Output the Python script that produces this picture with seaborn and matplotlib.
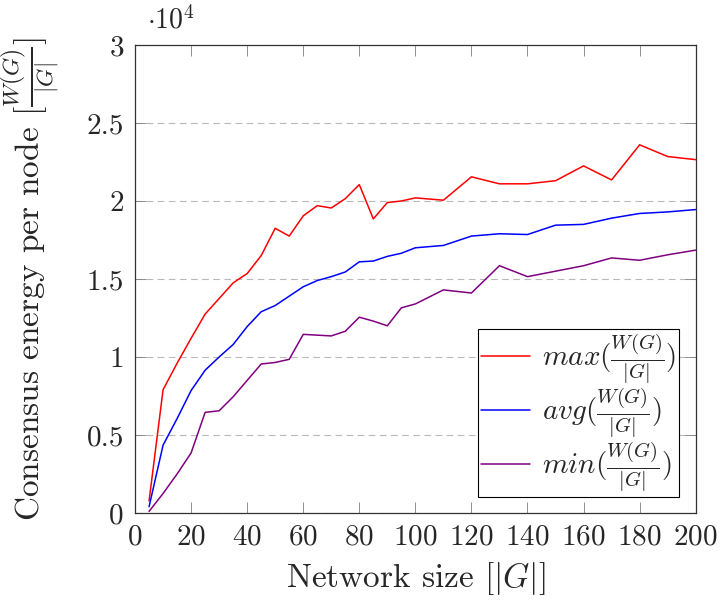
import numpy as np
import pandas as pd
import seaborn as sns
import matplotlib
matplotlib.use("Agg")
import matplotlib.pyplot as plt
from matplotlib.ticker import FuncFormatter, MultipleLocator

# Network sizes |G|
sizes = [5, 10, 15, 20, 25, 30, 35, 40, 45, 50, 55, 60, 65, 70, 75, 80, 85, 90, 95, 100,
         110, 120, 130, 140, 150, 160, 170, 180, 190, 200]

# Consensus energy per node W(G)/|G|
energy_max = [770, 7900, 9600, 11200, 12750, 13750, 14750, 15350, 16500, 18250,
              17750, 19050, 19700, 19550, 20150, 21050, 18850, 19900, 20000, 20200,
              20050, 21550, 21100, 21100, 21300, 22250, 21350, 23600, 22850, 22650]
energy_avg = [400, 4350, 6050, 7850, 9150, 10000, 10800, 11950, 12900, 13300,
              13900, 14500, 14900, 15150, 15450, 16100, 16150, 16450, 16650, 17000,
              17150, 17750, 17900, 17850, 18450, 18500, 18900, 19200, 19300, 19450]
energy_min = [100, 1250, 2500, 3850, 6450, 6550, 7450, 8500, 9550, 9650,
              9850, 11450, 11400, 11350, 11650, 12550, 12300, 12000, 13150, 13400,
              14300, 14100, 15850, 15150, 15500, 15850, 16350, 16200, 16550, 16850]

labels = [r"$max(\frac{W(G)}{|G|})$", r"$avg(\frac{W(G)}{|G|})$", r"$min(\frac{W(G)}{|G|})$"]
colors = ["#ff0000", "#0000ff", "#800080"]

df = pd.DataFrame({
    "size": sizes * 3,
    "energy": energy_max + energy_avg + energy_min,
    "stat": [labels[0]] * len(sizes) + [labels[1]] * len(sizes) + [labels[2]] * len(sizes),
})

sns.set_style("ticks")
plt.rcParams["font.family"] = "serif"
plt.rcParams["font.serif"] = ["cmr10"]
plt.rcParams["mathtext.fontset"] = "cm"
plt.rcParams["axes.formatter.use_mathtext"] = True
plt.rcParams["axes.unicode_minus"] = False

fig = plt.figure(figsize=(7.21, 6.04), dpi=100)
ax = fig.add_axes([0.1873, 0.1507, 0.7776, 0.7748])

sns.lineplot(data=df, x="size", y="energy", hue="stat", palette=colors,
             linewidth=1.1, ax=ax, legend=True)

ax.set_xlim(0, 200)
ax.set_ylim(0, 30000)
ax.xaxis.set_major_locator(MultipleLocator(20))
ax.yaxis.set_major_locator(MultipleLocator(5000))
ax.yaxis.set_major_formatter(FuncFormatter(lambda v, p: f"{v / 1e4:g}"))

fs = 21
ax.tick_params(axis="both", which="major", direction="in", length=8, width=0.6,
               color="#808080", labelsize=fs, top=True, right=True, pad=8)
ax.yaxis.grid(True, linestyle=(0, (6, 4)), color="#b8b8b8", linewidth=0.8)
ax.set_axisbelow(True)
for sp in ax.spines.values():
    sp.set_color("#333333")
    sp.set_linewidth(0.9)

lfs = 24
ax.set_xlabel(r"Network size [$|G|$]", fontsize=lfs)
ax.set_ylabel(r"Consensus energy per node [$\frac{W(G)}{|G|}$]", fontsize=lfs)
ax.xaxis.set_label_coords(0.5, -0.1)
ax.yaxis.set_label_coords(-0.13, 0.5)

ax.text(0.021, 1.035, r"$\cdot 10^4$", transform=ax.transAxes, fontsize=20,
        ha="left", va="baseline")

leg = ax.legend(loc="lower right", bbox_to_anchor=(0.970, 0.034), borderaxespad=0,
                fontsize=21, frameon=True, fancybox=False, framealpha=1,
                edgecolor="black", handlelength=1.7, labelspacing=0.0,
                borderpad=0.1, handletextpad=0.4)
leg.get_frame().set_linewidth(0.8)

fig.savefig("out.png", dpi=100)
